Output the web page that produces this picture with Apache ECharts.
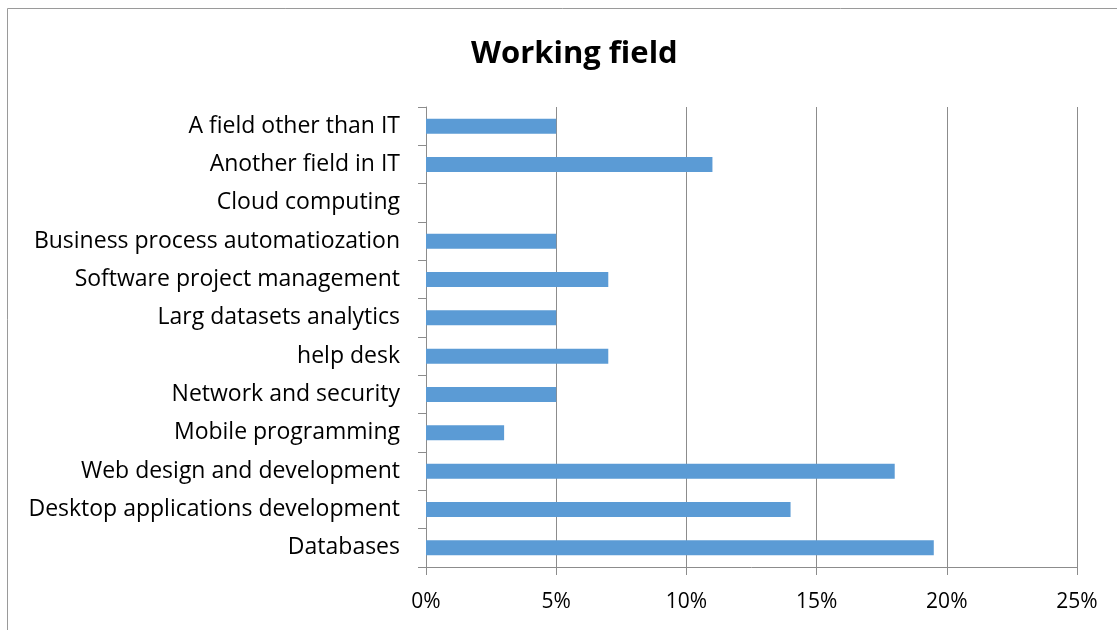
<!DOCTYPE html>
<html>
<head>
<meta charset="utf-8">
<script src="https://cdn.jsdelivr.net/npm/echarts@6/dist/echarts.min.js"></script>
<style>
  html, body { margin: 0; padding: 0; background: #fff; }
  #chart { width: 1117px; height: 630px; }
</style>
</head>
<body>
<div id="chart"></div>
<script>
// categories listed top to bottom
const fields = [
  'A field other than IT',
  'Another field in IT',
  'Cloud computing',
  'Business process automatiozation',
  'Software project management',
  'Larg datasets analytics',
  'help desk',
  'Network and security',
  'Mobile programming',
  'Web design and development',
  'Desktop applications development',
  'Databases'
]
const shares = [5, 11, 0, 5, 7, 5, 7, 5, 3, 18, 14, 19.5]
const xTicks = [0, 5, 10, 15, 20, 25]

const font = 'Open Sans, sans-serif'
const chart = echarts.init(document.getElementById('chart'))

chart.setOption({
  animation: false,
  title: {
    text: 'Working field',
    left: 466,
    top: 34,
    textStyle: { fontFamily: font, fontSize: 31, fontWeight: 'bold', color: '#000' }
  },
  graphic: [{
    type: 'rect',
    shape: { x: 7.5, y: 8.5, width: 1200, height: 700 },
    style: { fill: 'none', stroke: '#9a9a9a', lineWidth: 1 },
    silent: true
  }],
  grid: { left: 426, right: 40, top: 107, bottom: 63 },
  xAxis: {
    type: 'value',
    min: xTicks[0],
    max: xTicks[xTicks.length - 1],
    interval: 5,
    axisLine: { show: true, lineStyle: { color: '#8c8c8c' } },
    axisTick: { show: true, length: 8, lineStyle: { color: '#8c8c8c' } },
    splitLine: { show: true, lineStyle: { color: '#8c8c8c' } },
    axisLabel: { formatter: '{value}%', fontFamily: font, fontSize: 21, color: '#000', margin: 25 }
  },
  yAxis: {
    type: 'category',
    data: fields,
    inverse: true,
    axisLine: { show: true, lineStyle: { color: '#8c8c8c' } },
    axisTick: { show: true, length: 8, alignWithLabel: false, lineStyle: { color: '#8c8c8c' } },
    axisLabel: { fontFamily: font, fontSize: 23, color: '#000', margin: 26, padding: [3, 0, 0, 0] }
  },
  series: [{
    type: 'bar',
    data: shares,
    barWidth: 15,
    itemStyle: { color: '#5b9bd5' }
  }]
})
</script>
</body>
</html>
